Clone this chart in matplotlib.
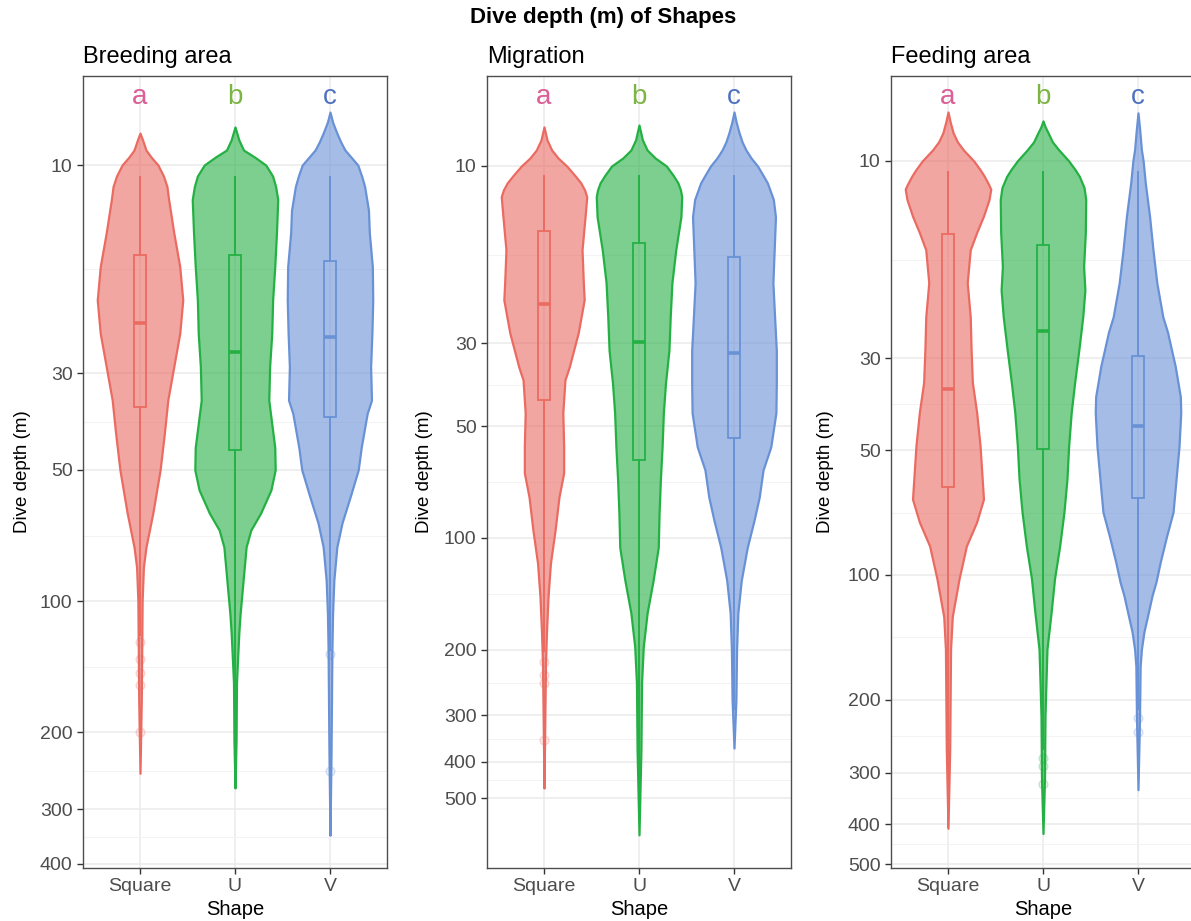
import matplotlib.pyplot as plt
from matplotlib.colors import to_rgba
from matplotlib.patches import Rectangle
from matplotlib.ticker import FixedLocator, FixedFormatter, NullFormatter
from matplotlib.transforms import blended_transform_factory

plt.rcParams['font.family'] = ['Liberation Sans', 'DejaVu Sans']

shapes = ['Square', 'U', 'V']
areas = ['Breeding area', 'Migration', 'Feeding area']
letters = ['a', 'b', 'c']

# violin outlines: depth (m) and relative density (1 = widest part)
breeding_square_depth = [8.45, 8.76, 9.24, 9.59, 10, 10.6, 11.2, 12.0, 14.3, 17.1, 20.4, 24.3, 29.0,
                         34.6, 41.2, 50, 62.8, 75.1, 83.5, 99.5, 169, 248]
breeding_square_dens = [0, 0.06, 0.14, 0.26, 0.42, 0.55, 0.63, 0.67, 0.79, 0.93, 1.0, 0.93, 0.79,
                        0.65, 0.57, 0.47, 0.30, 0.14, 0.08, 0.05, 0.03, 0]
breeding_u_depth = [8.18, 8.76, 9.24, 9.59, 10, 10.6, 11.2, 12.0, 14.3, 17.1, 20.4, 24.3, 29.0, 34.6,
                    44.4, 50, 55.6, 62.8, 68.7, 75.1, 89.5, 106.7, 118, 136, 154, 208, 268]
breeding_u_dens = [0, 0.09, 0.2, 0.46, 0.72, 0.88, 0.95, 1.0, 0.97, 0.93, 0.88, 0.86, 0.81, 0.79,
                   0.93, 0.94, 0.84, 0.60, 0.37, 0.26, 0.19, 0.12, 0.09, 0.06, 0.035, 0.025, 0]
breeding_v_depth = [7.56, 7.97, 8.45, 8.85, 9.24, 10, 10.6, 11.2, 12.7, 14.3, 17.1, 20.4, 24.3, 29.0,
                    34.6, 37.1, 44.4, 50, 57.7, 66.2, 75.1, 89.5, 106.7, 129, 220, 344]
breeding_v_dens = [0, 0.06, 0.16, 0.25, 0.35, 0.65, 0.74, 0.81, 0.90, 0.92, 0.99, 1.0, 0.98, 0.95,
                   0.97, 0.87, 0.73, 0.66, 0.47, 0.28, 0.16, 0.09, 0.06, 0.045, 0.025, 0]

migration_square_depth = [7.85, 8.51, 9.06, 9.52, 10, 10.6, 11.1, 11.6, 12.1, 13.7, 16.8, 20.6, 22.9,
                          28.1, 34.7, 37.6, 46.1, 56.9, 66.8, 77.6, 95.1, 117, 144, 177, 217, 272, 470]
migration_square_dens = [0, 0.07, 0.18, 0.33, 0.53, 0.72, 0.86, 0.95, 1.0, 0.96, 0.89, 0.92, 0.94,
                         0.80, 0.59, 0.49, 0.44, 0.46, 0.46, 0.35, 0.26, 0.15, 0.094, 0.06, 0.035,
                         0.025, 0]
migration_u_depth = [7.76, 8.51, 9.06, 9.52, 10, 10.6, 11.1, 11.6, 12.1, 13.7, 16.8, 20.6, 25.5, 31.3,
                     38.3, 46.1, 56.9, 69.8, 85.7, 106, 130, 159, 196, 245, 372, 628]
migration_u_dens = [0, 0.08, 0.19, 0.38, 0.64, 0.80, 0.91, 0.97, 1.0, 0.98, 0.86, 0.77, 0.73, 0.70,
                    0.62, 0.57, 0.54, 0.50, 0.47, 0.45, 0.33, 0.19, 0.10, 0.06, 0.045, 0]
migration_v_depth = [7.16, 7.62, 8.15, 8.62, 9.06, 9.52, 10, 10.6, 11.1, 12.3, 13.7, 16.8, 20.6, 25.5,
                     31.3, 38.3, 46.1, 56.9, 65.6, 77.6, 89.5, 106, 130, 159, 200, 272, 367]
migration_v_dens = [0, 0.05, 0.12, 0.19, 0.28, 0.40, 0.55, 0.68, 0.78, 0.92, 0.97, 0.94, 0.91, 0.95,
                    0.99, 0.99, 0.98, 0.86, 0.68, 0.59, 0.47, 0.31, 0.17, 0.09, 0.06, 0.045, 0]

feeding_square_depth = [7.62, 8.05, 8.56, 9.0, 9.41, 10, 10.5, 10.9, 11.4, 11.7, 12.4, 13.6, 14.9, 16.4,
                        19.7, 23.8, 28.5, 34.3, 40.5, 48.8, 58.7, 65.6, 74.5, 85.1, 102, 126, 151,
                        199, 263, 409]
feeding_square_dens = [0, 0.05, 0.12, 0.22, 0.36, 0.60, 0.75, 0.85, 0.95, 1.0, 0.96, 0.83, 0.67,
                       0.52, 0.45, 0.52, 0.54, 0.57, 0.67, 0.75, 0.80, 0.83, 0.67, 0.43, 0.26, 0.10,
                       0.06, 0.05, 0.04, 0]
feeding_u_depth = [8.01, 8.28, 8.56, 9.0, 9.41, 10, 10.5, 10.9, 11.6, 12.4, 14.9, 18.0, 20.5, 23.8,
                   28.5, 34.3, 40.5, 48.8, 58.7, 70.5, 85.1, 102, 123, 151, 181, 219, 310, 421]
feeding_u_dens = [0, 0.05, 0.12, 0.22, 0.37, 0.60, 0.75, 0.85, 0.96, 1.0, 0.99, 0.95, 0.98, 0.93,
                  0.84, 0.74, 0.66, 0.60, 0.56, 0.49, 0.39, 0.27, 0.19, 0.093, 0.07, 0.047, 0.035, 0]
feeding_v_depth = [7.66, 8.42, 9.41, 10, 11.3, 13.6, 16.4, 19.7, 23.8, 25.9, 28.5, 31.3, 37.1, 40.5,
                   48.8, 58.7, 70.5, 80.5, 93.1, 104, 112, 126, 137, 151, 166, 222, 330]
feeding_v_dens = [0, 0.04, 0.08, 0.12, 0.17, 0.27, 0.35, 0.44, 0.58, 0.69, 0.78, 0.87, 0.99, 1.0,
                  0.96, 0.89, 0.82, 0.67, 0.52, 0.42, 0.33, 0.22, 0.14, 0.08, 0.05, 0.035, 0]

# box plot summaries per shape: upper whisker, Q1, median, Q3, lower whisker (m)
breeding_box = [[10.6, 16.1, 23.0, 35.9, 120], [10.6, 16.1, 26.9, 45.1, 268], [10.6, 16.6, 24.8, 37.8, 130]]
migration_box = [[10.6, 15.0, 23.5, 42.6, 203], [10.6, 16.1, 29.7, 61.7, 460], [10.6, 17.6, 31.8, 53.8, 290]]
feeding_box = [[10.6, 15.0, 35.6, 61.4, 409], [10.6, 16.0, 25.8, 49.7, 265], [10.6, 29.6, 43.8, 65.2, 212]]

breeding_outliers = [[124, 136, 146, 156, 200], [], [132, 245]]
migration_outliers = [[215, 233, 246, 349], [], []]
feeding_outliers = [[], [277, 290, 319], [222, 239]]

breeding_ticks = [10, 30, 50, 100, 200, 300, 400]
migration_ticks = [10, 30, 50, 100, 200, 300, 400, 500]
feeding_ticks = [10, 30, 50, 100, 200, 300, 400, 500]

violins = [
    [(breeding_square_depth, breeding_square_dens), (breeding_u_depth, breeding_u_dens),
     (breeding_v_depth, breeding_v_dens)],
    [(migration_square_depth, migration_square_dens), (migration_u_depth, migration_u_dens),
     (migration_v_depth, migration_v_dens)],
    [(feeding_square_depth, feeding_square_dens), (feeding_u_depth, feeding_u_dens),
     (feeding_v_depth, feeding_v_dens)],
]
boxes = [breeding_box, migration_box, feeding_box]
outliers = [breeding_outliers, migration_outliers, feeding_outliers]
ticks = [breeding_ticks, migration_ticks, feeding_ticks]

line_colors = ['#EA6B62', '#25B044', '#6991D6']
letter_colors = ['#DB5E96', '#7CB543', '#4F72C0']
ylims = [(409, 6.25), (771, 5.73), (510, 6.24)]
lefts = [83, 487, 891]
ylabel_x = [-0.172, -0.178, -0.188]

W, H = 1191, 921
fig = plt.figure(figsize=(W / 100, H / 100), dpi=100)
fig.text(603 / W, 1 - 18 / H, 'Dive depth (m) of Shapes', ha='center', va='center',
         fontsize=16, fontweight='bold')

half_width = 0.45
box_half = 0.06

for i, area in enumerate(areas):
    ax = fig.add_axes([lefts[i] / W, 53 / H, 304 / W, 792 / H])
    ax.set_yscale('log')
    ax.set_ylim(*ylims[i])
    ax.set_xlim(0.4, 3.6)
    ax.set_axisbelow(True)

    major = ticks[i]
    minor = [(a * b) ** 0.5 for a, b in zip(major[:-1], major[1:])]
    ax.yaxis.set_major_locator(FixedLocator(major))
    ax.yaxis.set_major_formatter(FixedFormatter([str(t) for t in major]))
    ax.yaxis.set_minor_locator(FixedLocator(minor))
    ax.yaxis.set_minor_formatter(NullFormatter())
    ax.set_xticks([1, 2, 3])
    ax.set_xticklabels(shapes)

    ax.grid(which='major', color='#EBEBEB', lw=1.1)
    ax.grid(which='minor', axis='y', color='#F3F3F3', lw=0.7)
    ax.tick_params(which='major', direction='out', length=4.5, width=1.0, color='#333333',
                   labelcolor='#4D4D4D', labelsize=14, pad=3)
    ax.tick_params(which='minor', length=0)
    for sp in ax.spines.values():
        sp.set_color('#4D4D4D')
        sp.set_linewidth(1.0)

    for j in range(3):
        x = j + 1
        col = line_colors[j]
        depth, dens = violins[i][j]
        left = [x - half_width * d for d in dens]
        right = [x + half_width * d for d in dens]
        ax.fill_betweenx(depth, left, right, facecolor=to_rgba(col, 0.6), edgecolor=col,
                         lw=1.6, joinstyle='round', zorder=2)

        top, q1, med, q3, bottom = boxes[i][j]
        ax.vlines(x, top, q1, color=col, lw=1.4, zorder=3)
        ax.vlines(x, q3, bottom, color=col, lw=1.4, zorder=3)
        ax.add_patch(Rectangle((x - box_half, q1), 2 * box_half, q3 - q1, facecolor='none',
                               edgecolor=col, lw=1.3, zorder=3))
        ax.hlines(med, x - box_half, x + box_half, color=col, lw=2.6, zorder=4)

        pts = outliers[i][j]
        if pts:
            ax.scatter([x] * len(pts), pts, s=40, facecolor=to_rgba(col, 0.12),
                       edgecolor=to_rgba(col, 0.25), lw=1.0, zorder=3)

    trans = blended_transform_factory(ax.transData, ax.transAxes)
    for j, letter in enumerate(letters):
        ax.text(j + 1, 0.973, letter, transform=trans, ha='center', va='center',
                fontsize=20, color=letter_colors[j])

    ax.set_title(area, loc='left', fontsize=17, pad=9)
    ax.set_xlabel('Shape', fontsize=14.5, labelpad=3)
    ax.set_ylabel('Dive depth (m)', fontsize=13.5)
    ax.yaxis.set_label_coords(ylabel_x[i], 0.5)

fig.savefig('out.png', dpi=100)
